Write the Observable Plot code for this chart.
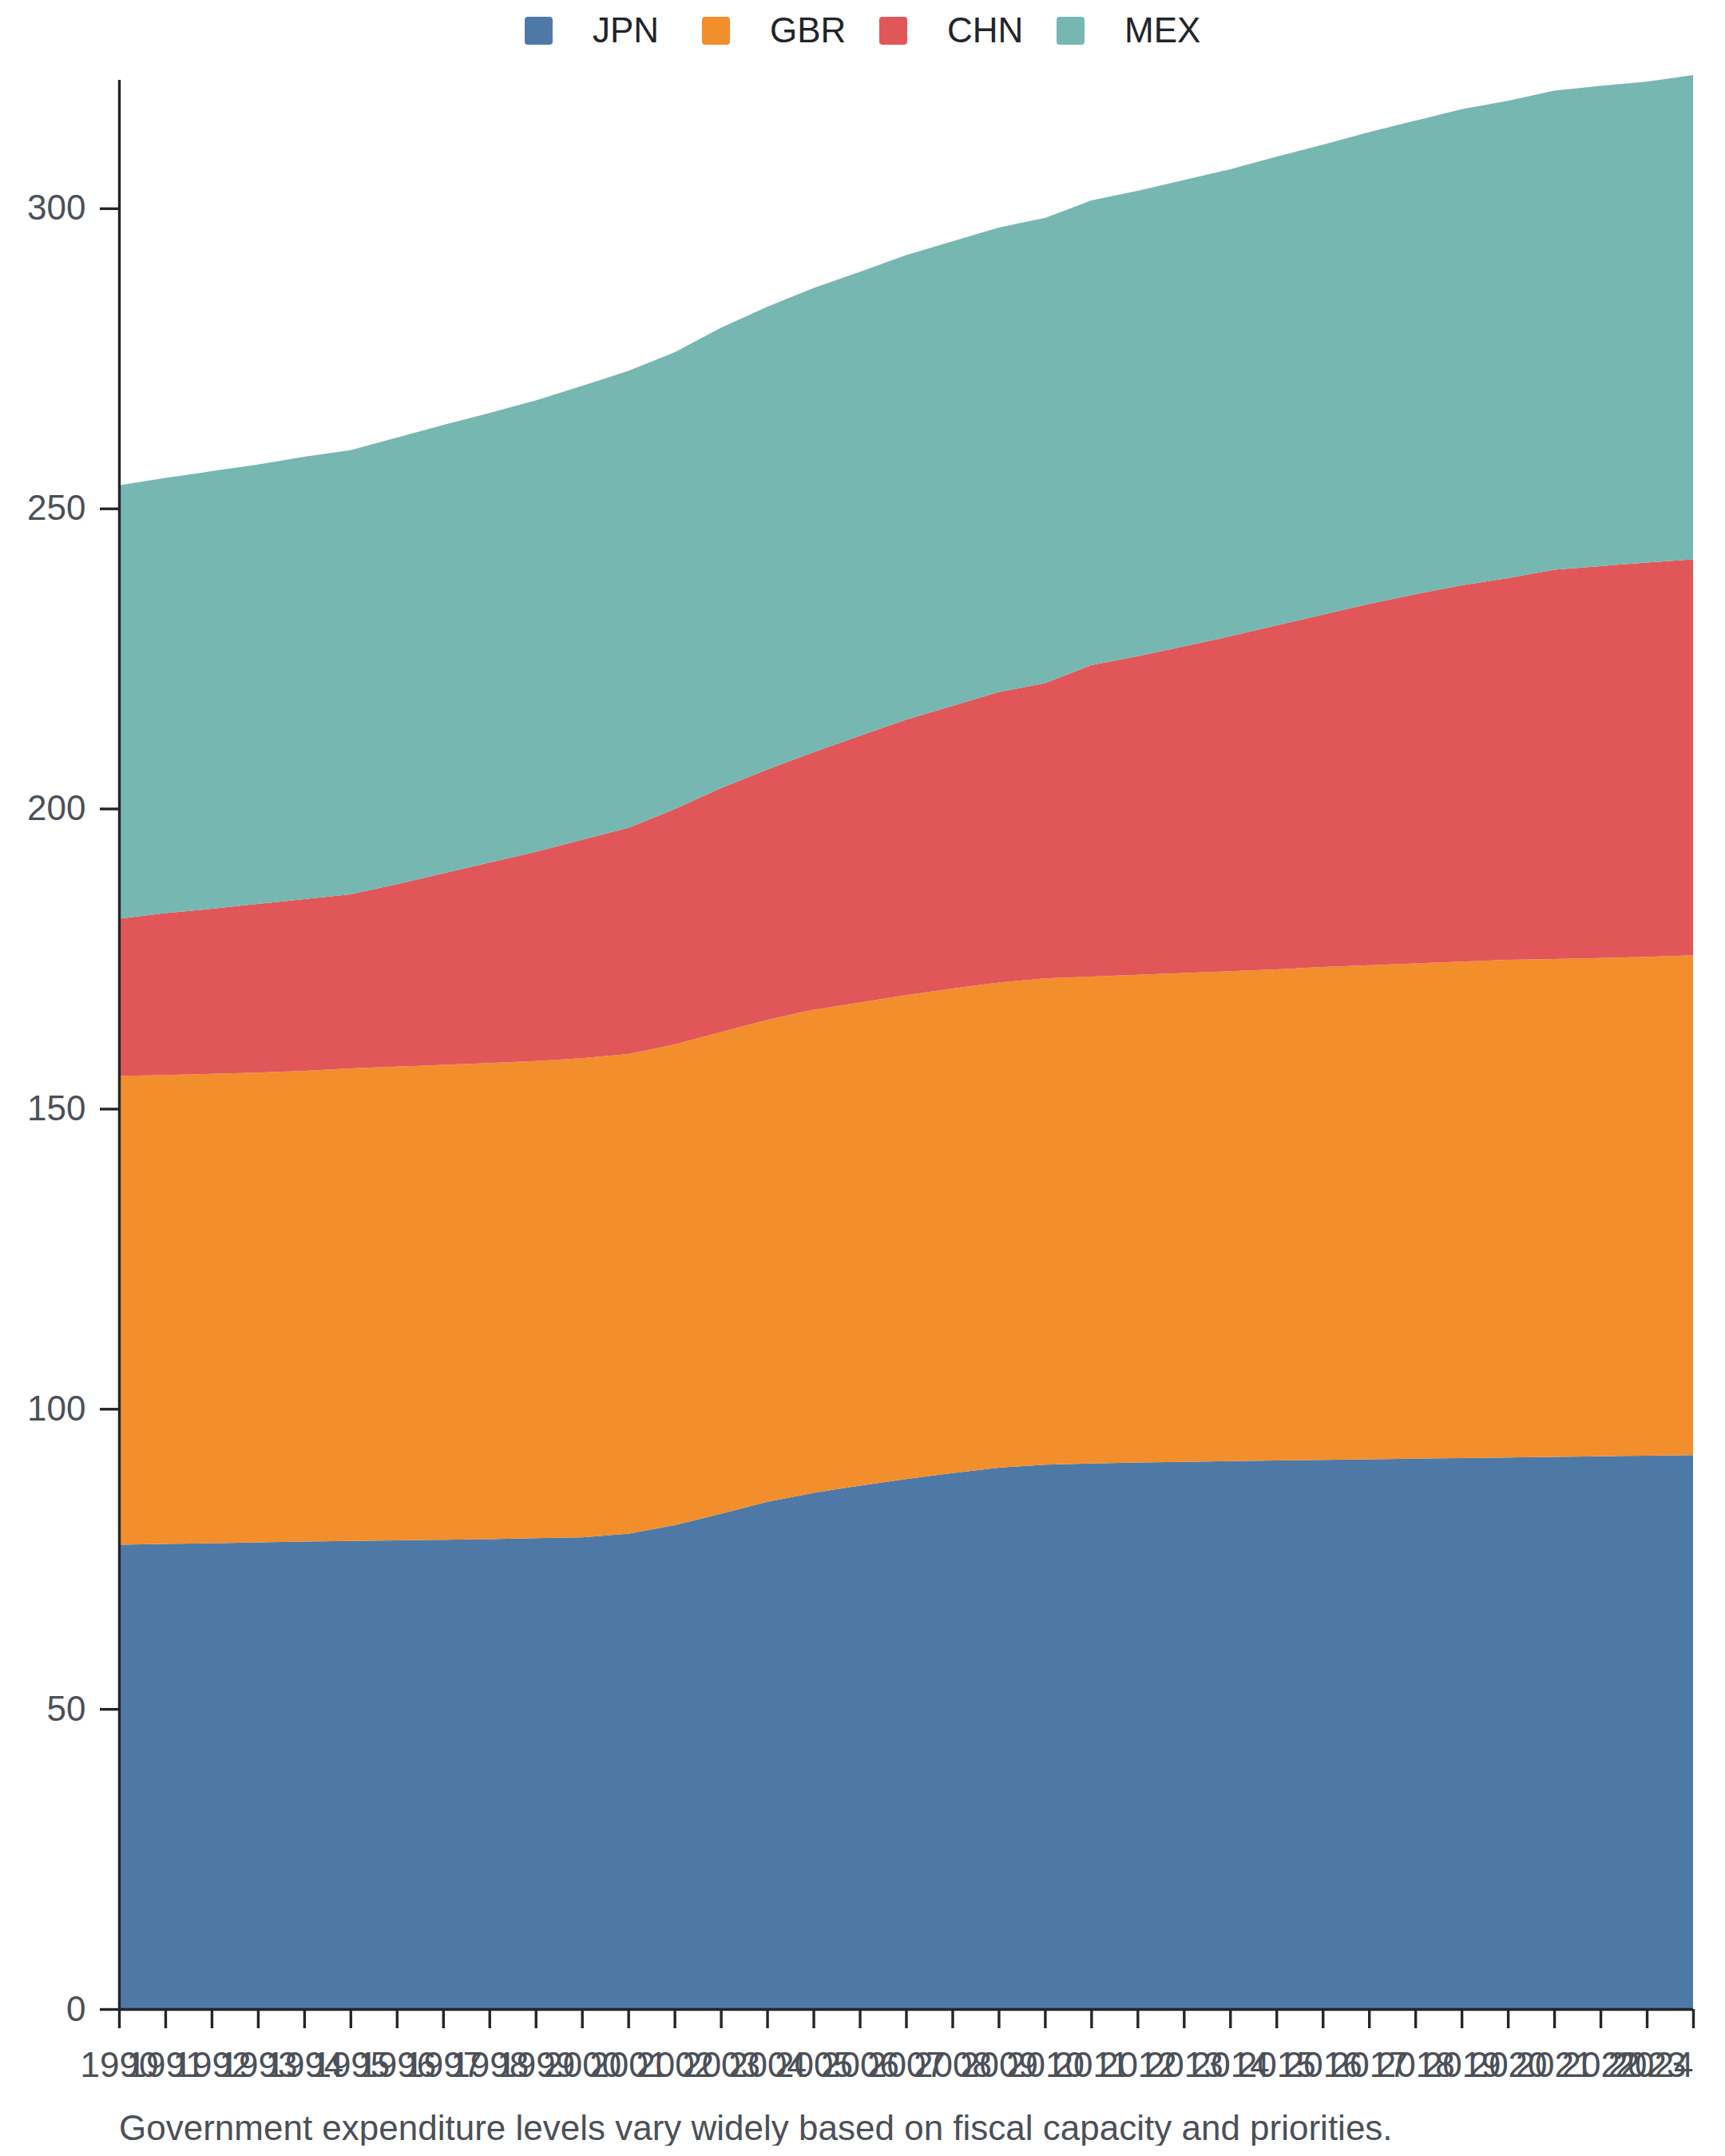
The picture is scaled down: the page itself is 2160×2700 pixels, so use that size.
<!DOCTYPE html>
<html>
<head>
<meta charset="utf-8">
<script src="https://cdn.jsdelivr.net/npm/d3@7"></script>
<script src="https://cdn.jsdelivr.net/npm/@observablehq/plot@0.6"></script>
<style>
  html, body { margin: 0; padding: 0; background: #fff; }
  body { width: 2160px; font-family: "Liberation Sans", Arial, Helvetica, sans-serif; }
  #legend { height: 76px; box-sizing: border-box; padding-top: 16px; display: flex; justify-content: center; align-items: flex-start; }
  .item { display: flex; align-items: flex-start; margin-right: 42px; }
  .item:last-child { margin-right: 0; }
  .sw { width: 35px; height: 35px; border-radius: 4px; margin-top: 5px; margin-right: 50px; }
  .lab { font-size: 44px; line-height: 1; color: #222429; width: 95px; white-space: nowrap; }
  #chart svg { display: block; }
  #caption { margin-top: 7px; padding-left: 149px; font-size: 44px; line-height: 1; color: #4b5058; white-space: nowrap; }
</style>
</head>
<body>
<div id="legend"></div>
<div id="chart"></div>
<div id="caption"></div>
<script>
const years = [1990, 1991, 1992, 1993, 1994, 1995, 1996, 1997, 1998, 1999,
  2000, 2001, 2002, 2003, 2004, 2005, 2006, 2007, 2008, 2009,
  2010, 2011, 2012, 2013, 2014, 2015, 2016, 2017, 2018, 2019,
  2020, 2021, 2022, 2023, 2024];

const countries = ["JPN", "GBR", "CHN", "MEX"];
const colors = ["#4e79a7", "#f28e2c", "#e15759", "#76b7b2"];

const jpn = [77.35, 77.5, 77.6, 77.75, 77.9, 78.0, 78.1, 78.2, 78.3, 78.45,
  78.6, 79.2, 80.6, 82.5, 84.5, 86.0, 87.2, 88.3, 89.3, 90.2,
  90.7, 90.9, 91.05, 91.15, 91.3, 91.4, 91.5, 91.6, 91.7, 91.8,
  91.9, 92.0, 92.1, 92.2, 92.3];

const gbr = [78.1, 78.1, 78.2, 78.25, 78.4, 78.7, 78.9, 79.1, 79.3, 79.5,
  79.8, 79.9, 80.1, 80.25, 80.3, 80.5, 80.5, 80.6, 80.7, 80.8,
  81.0, 81.1, 81.25, 81.45, 81.6, 81.8, 82.1, 82.3, 82.5, 82.7,
  82.9, 82.95, 83.0, 83.1, 83.25];

const chn = [26.2, 27.0, 27.5, 28.1, 28.6, 29.0, 30.4, 31.9, 33.4, 34.85,
  36.4, 37.7, 39.2, 40.65, 41.7, 42.9, 44.4, 45.9, 47.1, 48.4,
  49.2, 51.9, 53.1, 54.4, 55.8, 57.3, 58.7, 60.2, 61.5, 62.7,
  63.6, 64.85, 65.3, 65.7, 65.95];

const mex = [72.2, 72.5, 72.9, 73.2, 73.7, 74.0, 74.4, 74.7, 74.9, 75.2,
  75.6, 76.1, 76.1, 76.7, 77.1, 77.3, 77.3, 77.4, 77.4, 77.4,
  77.5, 77.4, 77.5, 77.7, 77.8, 78.1, 78.3, 78.6, 78.9, 79.3,
  79.5, 79.8, 80.0, 80.1, 80.7];

const yTicks = [0, 50, 100, 150, 200, 250, 300];
const yMax = 321.4;
const captionText = "Government expenditure levels vary widely based on fiscal capacity and priorities.";

const seriesValues = [jpn, gbr, chn, mex];
const rows = [];
countries.forEach((c, i) => {
  years.forEach((yr, j) => rows.push({country: c, year: yr, value: seriesValues[i][j]}));
});

// Legend
const legend = document.getElementById("legend");
countries.forEach((c, i) => {
  const item = document.createElement("div");
  item.className = "item";
  const sw = document.createElement("div");
  sw.className = "sw";
  sw.style.background = colors[i];
  const lab = document.createElement("span");
  lab.className = "lab";
  lab.textContent = c;
  item.appendChild(sw);
  item.appendChild(lab);
  legend.appendChild(item);
});

const axisColor = "#23252b";
const textColor = "#4b5058";
const firstYears = years.slice(0, -1);
const lastYear = years.slice(-1);

const chart = Plot.plot({
  width: 2160,
  height: 2560,
  marginTop: 24,
  marginBottom: 120,
  marginLeft: 149,
  marginRight: 40,
  style: {fontFamily: "'Liberation Sans', Arial, Helvetica, sans-serif", fontSize: "44px", background: "#fff"},
  x: {domain: [years[0], years[years.length - 1]]},
  y: {domain: [0, yMax]},
  color: {domain: countries, range: colors},
  marks: [
    Plot.areaY(rows, {x: "year", y: "value", fill: "country", z: "country", order: countries, curve: "linear"}),
    Plot.ruleY([0], {stroke: axisColor, strokeWidth: 3.4}),
    Plot.ruleX([years[0]], {stroke: axisColor, strokeWidth: 3.4}),
    Plot.axisX({ticks: firstYears, tickFormat: d => String(d), tickSize: 24, tickPadding: 29, stroke: axisColor, strokeWidth: 3.4, fill: textColor, fontSize: 44, label: null}),
    Plot.axisX({ticks: lastYear, tickFormat: d => String(d), tickSize: 24, tickPadding: 29, textAnchor: "end", dx: 0, stroke: axisColor, strokeWidth: 3.4, fill: textColor, fontSize: 44, label: null}),
    Plot.axisY({ticks: yTicks, tickFormat: d => String(d), tickSize: 24, tickPadding: 18, stroke: axisColor, strokeWidth: 3.4, fill: textColor, fontSize: 44, label: null})
  ]
});
document.getElementById("chart").appendChild(chart);
document.getElementById("caption").textContent = captionText;
</script>
</body>
</html>
